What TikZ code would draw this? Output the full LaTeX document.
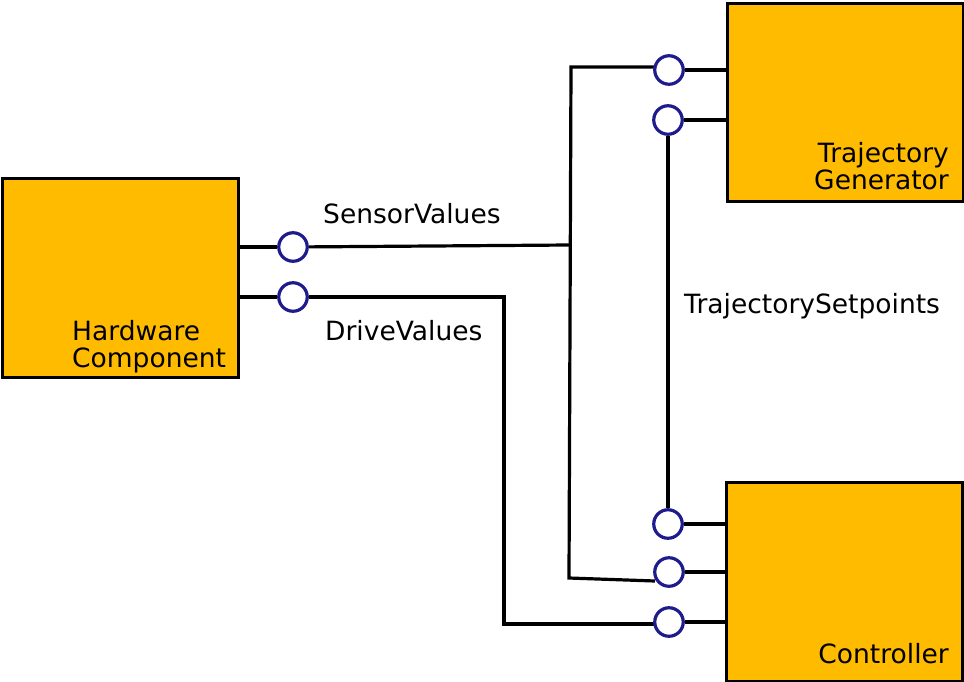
\documentclass[tikz,border=0pt]{standalone}
\usepackage{fontspec}
\setmainfont{DejaVu Sans}
\pgfdeclarelayer{background}
\pgfsetlayers{background,main}
\definecolor{boxfill}{RGB}{255,187,0}
\definecolor{portblue}{RGB}{30,28,140}
\begin{document}
\begin{tikzpicture}[x=1pt,y=-1pt,
  box/.style={draw=black, fill=boxfill, line width=3.2pt, inner sep=0pt, anchor=north west},
  port/.style={circle, draw=portblue, fill=white, line width=3.2pt, minimum size=28.5pt, inner sep=0pt},
  wire/.style={draw=black, line width=3.2pt},
  stub/.style={draw=black, line width=4pt},
  lbl/.style={font=\fontsize{26.5}{27}\selectfont, inner sep=0pt}
]
\useasboundingbox (0,0) rectangle (964,681);
% boxes
\node[box, minimum width=236pt, minimum height=199pt] (hw) at (1,177) {};
\node[box, minimum width=236pt, minimum height=198pt] (tg) at (726,2) {};
\node[box, minimum width=236pt, minimum height=199pt] (ct) at (725,481) {};
% box labels
\node[lbl, anchor=base west, align=left] (hwl) at (72,367) {Hardware\\Component};
\node[lbl, anchor=base east, align=right] (tgl) at (949,189) {Trajectory\\Generator};
\node[lbl, anchor=base east] (ctl) at (949,663) {Controller};
% connector labels
\node[lbl, anchor=base west] (svl) at (323,223) {SensorValues};
\node[lbl, anchor=base west] (dvl) at (325,340) {DriveValues};
\node[lbl, anchor=base west] (tsl) at (684,313) {TrajectorySetpoints};
% ports
\node[port] (hp1) at (293,247) {};
\node[port] (hp2) at (293,297) {};
\node[port] (tp1) at (669,70) {};
\node[port] (tp2) at (668,120) {};
\node[port] (cp1) at (668,524) {};
\node[port] (cp2) at (669,572) {};
\node[port] (cp3) at (669,622) {};
% junction coordinates
\coordinate (jm) at (569,245);
\coordinate (jt) at (571,67);
\coordinate (jb) at (569,578);
\coordinate (cb) at (655,581);
\coordinate (d1) at (504,297);
\coordinate (d2) at (504,624);
\begin{pgfonlayer}{background}
% stubs between ports and boxes
\path[stub] (hw.east |- hp1) -- (hp1);
\path[stub] (hw.east |- hp2) -- (hp2);
\path[stub] (tp1) -- (tg.west |- tp1);
\path[stub] (tp2) -- (tg.west |- tp2);
\path[stub] (cp1) -- (ct.west |- cp1);
\path[stub] (cp2) -- (ct.west |- cp2);
\path[stub] (cp3) -- (ct.west |- cp3);
% connectors
\path[wire] (hp1) -- (jm);
\path[wire] (tp1 |- jt) -- (jt) -- (jb) -- (cb);
\path[wire] (tp2) -- (cp1);
\path[wire] (hp2) -- (d1) -- (d2) -- (cp3 |- d2);
\end{pgfonlayer}
\end{tikzpicture}
\end{document}
